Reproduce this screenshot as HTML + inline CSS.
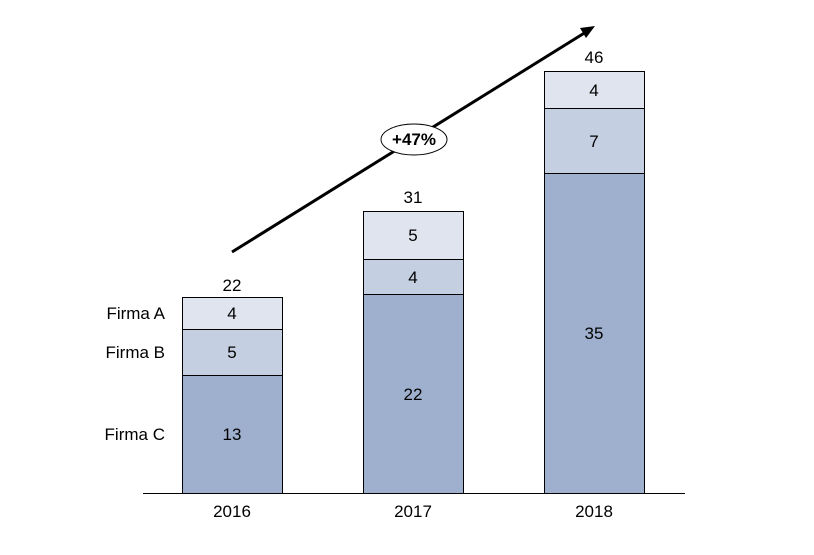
<!DOCTYPE html>
<html><head><meta charset="utf-8"><style>body{margin:0;background:#fff}</style></head><body>
<svg width="814" height="550" xmlns="http://www.w3.org/2000/svg" font-family="Liberation Sans, sans-serif" font-size="17" fill="#000">
<g stroke="#000" stroke-width="1">
<rect x="182.5" y="297.5" width="100" height="32" fill="#dfe4ee"/>
<rect x="182.5" y="329.5" width="100" height="46" fill="#c4cfe1"/>
<rect x="182.5" y="375.5" width="100" height="118" fill="#9eb0cd"/>
<rect x="363.5" y="211.5" width="100" height="48" fill="#dfe4ee"/>
<rect x="363.5" y="259.5" width="100" height="35" fill="#c4cfe1"/>
<rect x="363.5" y="294.5" width="100" height="199" fill="#9eb0cd"/>
<rect x="544.5" y="71.5" width="100" height="37" fill="#dfe4ee"/>
<rect x="544.5" y="108.5" width="100" height="65" fill="#c4cfe1"/>
<rect x="544.5" y="173.5" width="100" height="320" fill="#9eb0cd"/>
<line x1="143" y1="493.5" x2="685" y2="493.5"/>
</g>
<line x1="232" y1="252" x2="586" y2="32" stroke="#000" stroke-width="3"/>
<polygon points="595,26 580,28 586,38" fill="#000"/>
<ellipse cx="414" cy="139.5" rx="33" ry="15.5" fill="#fff" stroke="#000" stroke-width="1"/>
<text x="414" y="145" text-anchor="middle" font-weight="bold">+47%</text>
<g text-anchor="middle">
<text x="232" y="291">22</text><text x="232" y="319">4</text><text x="232" y="358">5</text><text x="232" y="440">13</text>
<text x="413" y="203">31</text><text x="413" y="241">5</text><text x="413" y="283">4</text><text x="413" y="400">22</text>
<text x="594" y="63">46</text><text x="594" y="96">4</text><text x="594" y="147">7</text><text x="594" y="339">35</text>
<text x="232" y="517">2016</text><text x="413" y="517">2017</text><text x="594" y="517">2018</text>
</g>
<g text-anchor="end">
<text x="165" y="319">Firma A</text><text x="165" y="358">Firma B</text><text x="165" y="440">Firma C</text>
</g>
</svg>
</body></html>
